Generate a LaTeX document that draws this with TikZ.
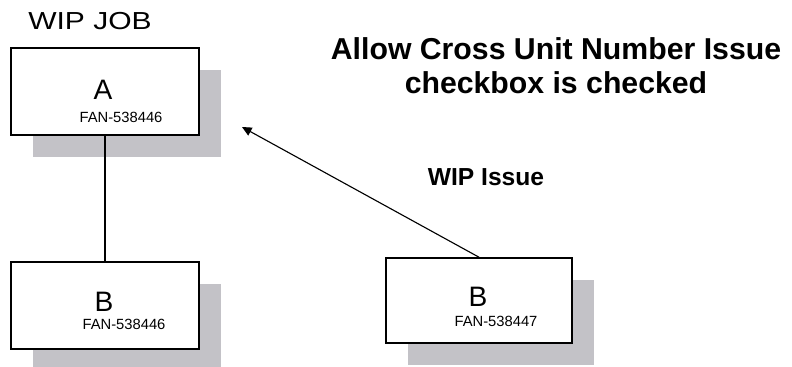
\documentclass[tikz,border=0pt]{standalone}
\usepackage{fontspec}
\setmainfont{Liberation Sans}
\usepackage{xcolor}
\usetikzlibrary{arrows.meta, positioning, shadows}
\definecolor{shadowgray}{RGB}{195,194,199}

\begin{document}
\begin{tikzpicture}[x=0.025cm, y=-0.025cm,
        jobbox/.style={draw, line width=1.1pt, fill=white, inner sep=0pt,
            minimum width=4.7cm, minimum height=2.175cm,
            drop shadow={shadow xshift=0.55cm, shadow yshift=-0.55cm, fill=shadowgray, opacity=1}},
        unit/.style={font=\fontsize{20}{22}\selectfont},
        serial/.style={font=\fontsize{10.5}{12}\selectfont, inner sep=0pt}]
        \useasboundingbox (0,0) rectangle (792,367);

        % Heading
        \node[font=\fontsize{17.5}{20}\selectfont] (wipjob) at (90,21) {\scalebox{1.22}[1]{WIP JOB}};
        \node[font=\fontsize{21.5}{24.2}\selectfont\bfseries, align=center] (title) at (556,66)
            {Allow Cross Unit Number Issue\\checkbox is checked};

        % Boxes
        \node[jobbox] (a) at (105,91.5) {};
        \node[jobbox] (b) at (105,305.5) {};
        \node[jobbox, minimum width=4.65cm, minimum height=2.125cm] (bb) at (479,300.5) {};

        % Box texts
        \node[unit] (aname) at (103,89.5) {A};
        \node[serial] (aserial) at (121,117.5) {FAN-538446};
        \node[unit] (bname) at (104,301.5) {B};
        \node[serial] (bserial) at (124,324.5) {FAN-538446};
        \node[unit] (bbname) at (478,296.5) {B};
        \node[serial] (bbserial) at (496,321) {FAN-538447};

        % Connectors
        \draw[line width=0.9pt] (a.south) -- (b.north);
        \coordinate (tip) at (242,127);
        \draw[line width=0.8pt, -{Triangle[length=0.24cm, width=0.22cm]}] (bb.north) -- (tip);
        \node[font=\fontsize{17.5}{20}\selectfont\bfseries] (issue) at (486,177.5) {WIP Issue};
    \end{tikzpicture}
\end{document}
